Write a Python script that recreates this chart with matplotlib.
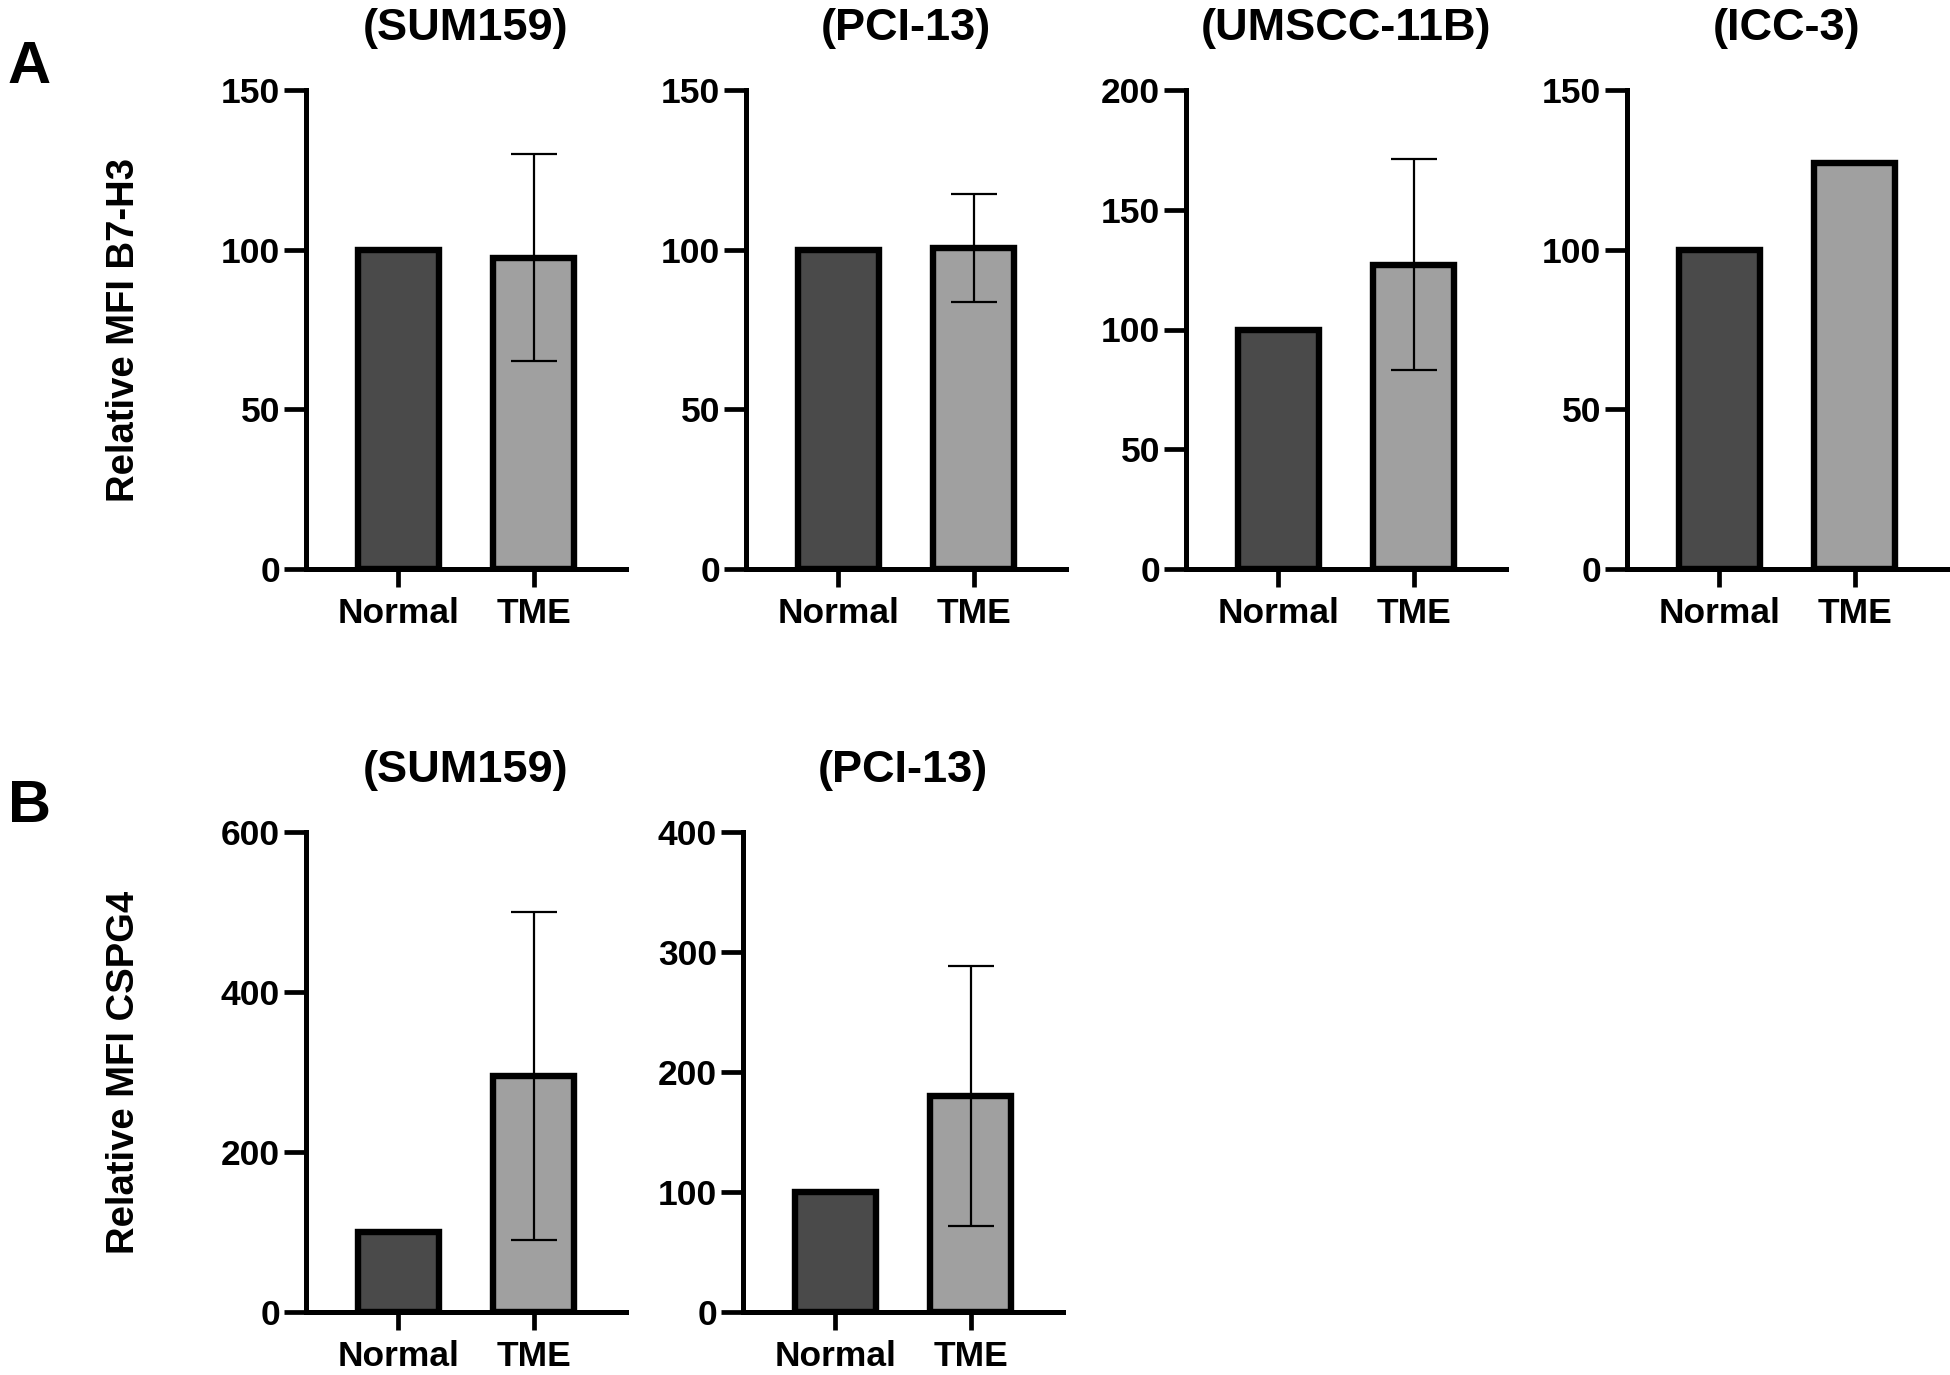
import matplotlib
matplotlib.use("Agg")
import matplotlib.pyplot as plt
import numpy as np

plt.rcParams['font.family'] = ['Liberation Sans', 'DejaVu Sans']
plt.rcParams['font.weight'] = 'bold'

# ---- data ----
categories = ['Normal', 'TME']

titles_a = ['(SUM159)', '(PCI-13)', '(UMSCC-11B)', '(ICC-3)']
b7h3_normal = [100, 100, 100, 100]
b7h3_tme = [97.5, 100.5, 127, 127]
b7h3_tme_err = [32.5, 17, 44, np.nan]
b7h3_ymax = [150, 150, 200, 150]
b7h3_ystep = [50, 50, 50, 50]

titles_b = ['(SUM159)', '(PCI-13)']
cspg4_normal = [100, 100]
cspg4_tme = [295, 180]
cspg4_tme_err = [205, 108]
cspg4_ymax = [600, 400]
cspg4_ystep = [200, 100]

ylabel_a = 'Relative MFI B7-H3'
ylabel_b = 'Relative MFI CSPG4'

# ---- styles ----
W, H = 1950, 1375
fig = plt.figure(figsize=(W / 100, H / 100), dpi=100)
c_normal = '#4a4a4a'
c_tme = '#a0a0a0'


def px_axes(left, top, width, bottom):
    return fig.add_axes([left / W, 1 - bottom / H, width / W, (bottom - top) / H])


def draw_panel(ax, title, normal, tme, err, ymax, ystep):
    x = np.arange(len(categories))
    ax.bar(x, [normal, tme], width=0.6, color=[c_normal, c_tme],
           edgecolor='black', linewidth=4.6, zorder=2)
    if not np.isnan(err):
        ax.errorbar(x[1], tme, yerr=err, fmt='none', ecolor='black',
                    elinewidth=1.6, capsize=16.5, capthick=1.6, zorder=3)
    ax.set_xlim(-0.68, 1.68)
    ax.set_ylim(0, ymax)
    ax.set_yticks(np.arange(0, ymax + 1, ystep))
    ax.set_xticks(x)
    ax.set_xticklabels(categories)
    for s in ['top', 'right']:
        ax.spines[s].set_visible(False)
    for s in ['left', 'bottom']:
        ax.spines[s].set_linewidth(3.6)
    ax.tick_params(axis='y', length=15.8, width=3.4, labelsize=25.5, pad=3)
    ax.tick_params(axis='x', length=13, width=3.4, labelsize=25.5, pad=7)
    for lab in ax.get_xticklabels() + ax.get_yticklabels():
        lab.set_fontweight('bold')
    ax.set_title(title, fontsize=32.5, fontweight='bold', pad=36)
    ax.patch.set_alpha(0)


lefts_a = [306, 746, 1186, 1627]
for i in range(4):
    ax = px_axes(lefts_a[i], 90, 320, 569)
    draw_panel(ax, titles_a[i], b7h3_normal[i], b7h3_tme[i], b7h3_tme_err[i],
               b7h3_ymax[i], b7h3_ystep[i])

lefts_b = [306, 743]
for i in range(2):
    ax = px_axes(lefts_b[i], 832, 320, 1312)
    draw_panel(ax, titles_b[i], cspg4_normal[i], cspg4_tme[i], cspg4_tme_err[i],
               cspg4_ymax[i], cspg4_ystep[i])

fig.text(124 / W, 1 - 330 / H, ylabel_a, rotation=90, fontsize=27.5,
         fontweight='bold', ha='center', va='center')
fig.text(124 / W, 1 - 1072 / H, ylabel_b, rotation=90, fontsize=27.5,
         fontweight='bold', ha='center', va='center')

fig.text(8 / W, 1 - 83 / H, 'A', fontsize=43, fontweight='bold', ha='left', va='baseline')
fig.text(8 / W, 1 - 822 / H, 'B', fontsize=43, fontweight='bold', ha='left', va='baseline')

fig.savefig('out.png', dpi=100, facecolor='white')
